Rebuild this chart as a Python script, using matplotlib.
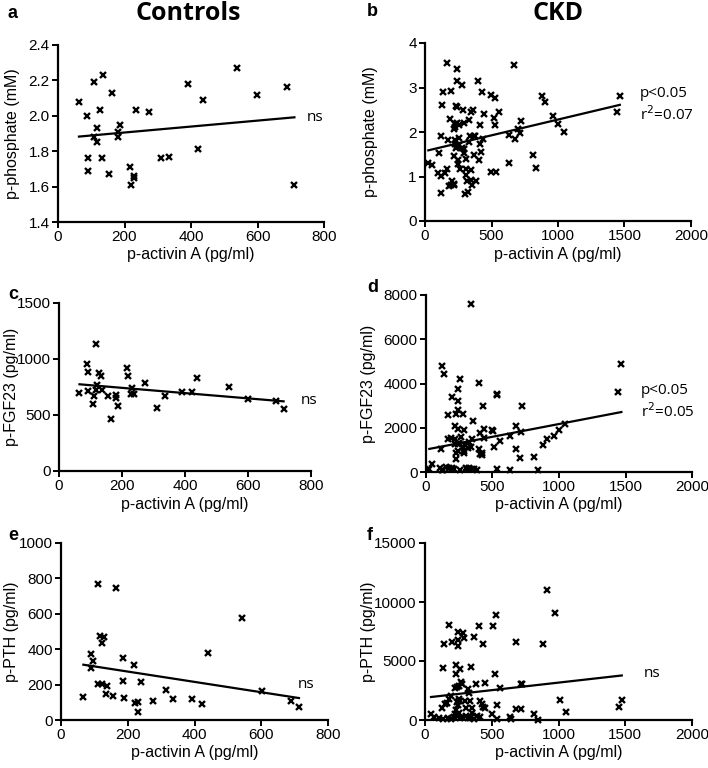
import matplotlib
matplotlib.use("Agg")
import numpy as np
import matplotlib.pyplot as plt

plt.rcParams["font.family"] = ["Liberation Sans", "DejaVu Sans"]

# ---- Controls (activin A, pg/ml) ----
ctrl_x_a = [63, 107, 136, 163, 86, 126, 236, 273, 116, 108, 117, 186, 180, 181, 89, 133,
            91, 152, 216, 220, 228, 230, 311, 335, 391, 436, 421, 539, 599, 688, 711]
ctrl_phos = [2.08, 2.19, 2.23, 2.13, 2.00, 2.03, 2.03, 2.02, 1.93, 1.88, 1.85, 1.95, 1.91, 1.88, 1.76, 1.76,
             1.69, 1.67, 1.71, 1.61, 1.66, 1.65, 1.76, 1.77, 2.18, 2.09, 1.81, 2.27, 2.12, 2.16, 1.61]

ctrl_x_c = [65, 88, 93, 91, 118, 127, 134, 121, 118, 110, 109, 138, 154, 165, 182, 182,
            188, 216, 220, 231, 229, 237, 273, 312, 335, 391, 421, 437, 539, 600, 689, 713]
ctrl_fgf = [700, 952, 884, 714, 1134, 875, 848, 765, 720, 667, 598, 720, 673, 464, 679, 652,
            580, 923, 845, 744, 690, 690, 789, 565, 667, 705, 705, 827, 750, 646, 628, 551]

ctrl_x_e = [67, 90, 95, 89, 111, 166, 118, 130, 124, 111, 122, 138, 136, 156, 185, 185,
            190, 219, 239, 222, 231, 230, 276, 314, 337, 393, 423, 440, 542, 603, 689, 713]
ctrl_pth = [129, 371, 334, 295, 767, 745, 475, 469, 435, 203, 201, 193, 146, 135, 351, 223,
            124, 311, 216, 96, 99, 47, 107, 169, 118, 116, 90, 377, 578, 163, 105, 73]

# ---- CKD ----
ckd_x_b = [25, 52, 165, 238, 242, 280, 395, 192, 135, 425, 498, 530, 125, 235, 238, 285, 343, 360,
           440, 555, 190, 222, 238, 252, 330, 295, 410, 530, 518, 225, 220, 120, 170, 228, 252, 340,
           365, 375, 435, 410, 228, 238, 252, 235, 278, 295, 328, 105, 220, 292, 365, 310, 405, 248,
           250, 260, 420, 312, 345, 165, 150, 100, 122, 310, 315, 345, 382, 205, 215, 192, 180, 220,
           355, 325, 297, 120, 670, 632, 677, 712, 697, 725, 495, 535, 630, 810, 837, 877, 905, 960,
           997, 1042, 1465, 1442]
ckd_phos = [1.31, 1.26, 3.56, 3.41, 3.14, 3.05, 3.14, 2.93, 2.90, 2.91, 2.83, 2.77, 2.60, 2.59, 2.56, 2.50, 2.45, 2.49,
            2.41, 2.46, 2.30, 2.18, 2.20, 2.16, 2.27, 2.21, 2.16, 2.16, 2.31, 2.11, 2.06, 1.91, 1.82, 1.83, 1.86, 1.90,
            1.91, 1.90, 1.84, 1.72, 1.74, 1.69, 1.70, 1.64, 1.64, 1.61, 1.78, 1.52, 1.47, 1.52, 1.49, 1.39, 1.37, 1.37,
            1.27, 1.16, 1.55, 1.16, 1.15, 1.17, 1.08, 1.07, 1.02, 1.04, 0.90, 0.92, 0.91, 0.89, 0.84, 0.80, 0.78, 0.81,
            0.80, 0.66, 0.60, 0.63, 3.50, 1.94, 1.85, 1.98, 2.06, 2.24, 1.10, 1.10, 1.31, 1.48, 1.19, 2.81, 2.67, 2.35,
            2.19, 1.99, 2.81, 2.45]

ckd_x_d = [336, 1469, 1444, 123, 135, 253, 396, 243, 531, 534, 193, 241, 426, 724, 241, 163, 228, 276,
           353, 221, 243, 286, 190, 168, 677, 439, 409, 499, 501, 436, 221, 263, 321, 348, 238, 248,
           221, 296, 278, 316, 338, 401, 115, 243, 228, 286, 288, 419, 424, 406, 514, 634, 556, 712,
           1048, 1000, 962, 910, 882, 677, 704, 812, 228, 48, 25, 103, 118, 150, 173, 193, 213, 253,
           308, 326, 346, 363, 381, 534, 634, 840, 130, 301]
ckd_fgf = [7595, 4888, 3625, 4783, 4422, 4211, 4016, 3760, 3534, 3490, 3384, 3219, 2978, 2978, 2797, 2557, 2617, 2632,
           2286, 2090, 1925, 1910, 1519, 1504, 2090, 1940, 1760, 1880, 1835, 1519, 1474, 1594, 1369, 1474, 1278, 1323,
           1263, 1218, 1143, 1068, 1143, 1053, 1053, 948, 857, 963, 872, 857, 767, 812, 1128, 1624, 1399, 1820,
           2181, 1895, 1624, 1474, 1218, 1038, 617, 662, 602, 361, 120, 165, 105, 241, 196, 165, 135, 105,
           135, 180, 150, 120, 90, 120, 105, 90, 105, 165]

ckd_x_f = [177, 139, 134, 202, 247, 286, 247, 247, 294, 364, 406, 433, 511, 535, 685, 887, 234, 264,
           346, 234, 523, 446, 383, 271, 254, 239, 227, 276, 319, 331, 563, 720, 730, 194, 177, 152,
           129, 162, 254, 252, 336, 229, 244, 239, 306, 301, 354, 413, 426, 436, 448, 351, 304, 254,
           227, 45, 65, 107, 132, 174, 197, 214, 239, 259, 274, 319, 339, 366, 386, 413, 503, 540,
           638, 643, 538, 685, 717, 819, 844, 915, 973, 1008, 1053, 1474, 1454]
ckd_pth = [8051, 6474, 4448, 6587, 7488, 7404, 6784, 6249, 6981, 7037, 7995, 6418, 7995, 8896, 6643, 6446, 4701, 4335,
           4504, 3885, 3857, 3153, 3068, 3181, 2899, 2759, 2731, 3012, 2646, 2252, 2674, 3040, 3012, 2055, 1745, 1323,
           1013, 1407, 1773, 1576, 1576, 816, 1295, 1492, 985, 1633, 1013, 1633, 1379, 1098, 985, 563, 366, 591,
           479, 479, 225, 169, 84, 141, 56, 225, 310, 169, 253, 197, 141, 84, 338, 281, 479, 56,
           253, 84, 1239, 957, 957, 479, 0, 11017, 9040, 1695, 680, 1695, 1130]

# regression lines (intercept, slope)
fit_a = [1.872, 0.000168]
fit_b = [1.57, 0.00071]
fit_c = [789.5, -0.235]
fit_d = [1015, 1.154]
fit_e = [332, -0.2917]
fit_f = [1891, 1.277]

panels = [
    # letter, x, y, fit, rect, xlim, xticks, ylim, yticks, ylabel, note, note_xy, ylab_x
    ("a", ctrl_x_a, ctrl_phos, fit_a, [58, 45, 266, 177], 800, np.arange(0, 801, 200),
     (1.4, 2.4), np.arange(1.4, 2.41, 0.2), "p-phosphate (mM)", "ns", (748, 1.99), 13),
    ("b", ckd_x_b, ckd_phos, fit_b, [425, 43, 266, 178], 2000, np.arange(0, 2001, 500),
     (0, 4), np.arange(0, 5, 1), "p-phosphate (mM)", "p<0.05\nr$^2$=0.07", (1615, 2.6), 371),
    ("c", ctrl_x_c, ctrl_fgf, fit_c, [59, 303, 252, 168], 800, np.arange(0, 801, 200),
     (0, 1500), np.arange(0, 1501, 500), "p-FGF23 (pg/ml)", "ns", (768, 630), 12),
    ("d", ckd_x_d, ckd_fgf, fit_d, [426, 295, 266, 177], 2000, np.arange(0, 2001, 500),
     (0, 8000), np.arange(0, 8001, 2000), "p-FGF23 (pg/ml)", "p<0.05\nr$^2$=0.05", (1615, 3150), 369),
    ("e", ctrl_x_e, ctrl_pth, fit_e, [61, 543, 267, 177], 800, np.arange(0, 801, 200),
     (0, 1000), np.arange(0, 1001, 200), "p-PTH (pg/ml)", "ns", (708, 200), 12),
    ("f", ckd_x_f, ckd_pth, fit_f, [425, 543, 267, 177], 2000, np.arange(0, 2001, 500),
     (0, 15000), np.arange(0, 15001, 5000), "p-PTH (pg/ml)", "ns", (1635, 3970), 369),
]

W, H = 708, 768
fig = plt.figure(figsize=(W / 100, H / 100), dpi=100)

for letter, xs, ys, fit, (px, py, pw, ph), xmax, xt, ylim, yt, ylab, note, nxy, ylx in panels:
    ax = fig.add_axes([px / W, 1 - (py + ph) / H, pw / W, ph / H])
    ax.plot(xs, ys, linestyle="none", marker="x", ms=4, mew=1.7, color="black", clip_on=False)
    xl = np.array([min(xs), max(xs)])
    ax.plot(xl, fit[0] + fit[1] * xl, color="black", lw=1.6)
    ax.set_xlim(0, xmax)
    ax.set_ylim(*ylim)
    ax.set_xticks(xt)
    ax.set_yticks(yt)
    if letter == "a":
        ax.set_yticklabels([f"{v:.1f}" for v in yt])
    for s in ["top", "right"]:
        ax.spines[s].set_visible(False)
    for s in ["left", "bottom"]:
        ax.spines[s].set_linewidth(1.6)
    ax.tick_params(direction="out", length=4, width=1.4, labelsize=11, pad=2)
    ax.set_xlabel("p-activin A (pg/ml)", fontsize=11.5, va="center")
    ax.xaxis.set_label_coords(0.5, -33 / ph)
    ax.set_ylabel(ylab, fontsize=11.5, va="center")
    ax.yaxis.set_label_coords((ylx - px) / pw, 0.5)
    ax.text(nxy[0], nxy[1], note, fontsize=11, family=["Open Sans", "DejaVu Sans"],
            va="center", ha="left", linespacing=1.3)
    lx = 8 if px < 300 else 367
    fig.text(lx / W, 1 - (py - 32 if letter in "ab" else py - 8) / H, letter,
             fontsize=13, fontweight="bold", va="center", ha="left")

fig.text(188 / W, 1 - 14 / H, "Controls", fontsize=18, fontweight="bold",
         family=["Open Sans", "DejaVu Sans"], ha="center", va="center")
fig.text(558 / W, 1 - 14 / H, "CKD", fontsize=18, fontweight="bold",
         family=["Open Sans", "DejaVu Sans"], ha="center", va="center")

fig.savefig("out.png", dpi=100)
